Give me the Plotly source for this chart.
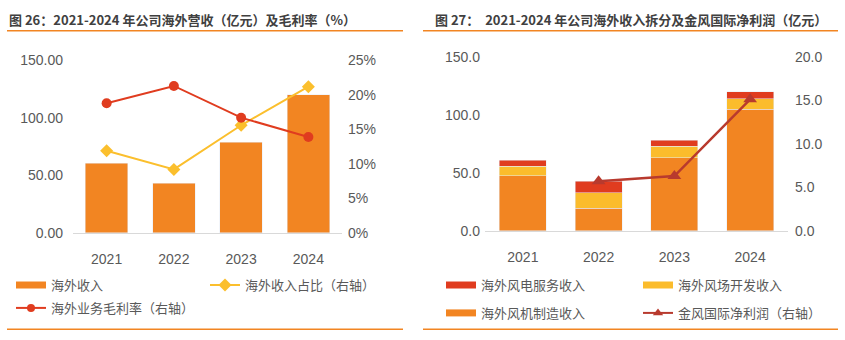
import plotly.graph_objects as go

years = ["2021", "2022", "2023", "2024"]
# Chart 26
overseas_rev = [60.5, 43.1, 79.0, 120.1]          # 亿元
overseas_share = [11.9, 9.2, 15.6, 21.2]          # %
overseas_margin = [18.8, 21.3, 16.7, 13.9]        # %
# Chart 27
rev_service = [5.0, 9.8, 4.9, 5.8]
rev_farm = [8.2, 13.1, 9.9, 9.0]
rev_turbine = [47.5, 19.7, 63.1, 104.9]
intl_profit = [None, 5.7, 6.3, 15.1]

left_ticks = [0, 50, 100, 150]
left_tick_text = ["0.00", "50.00", "100.00", "150.00"]
right_ticks1 = [0, 5, 10, 15, 20, 25]
right_tick_text1 = ["0%", "5%", "10%", "15%", "20%", "25%"]
right_ticks2 = [0, 5, 10, 15, 20]

W, H = 845, 340
def px(x):
    return x / W
def py(y):
    return 1 - y / H

C_OR = "#F28522"
C_RED = "#E03C1F"
C_YEL = "#FBBC2C"
C_LINE_Y = "#FBBF2D"
C_DRED = "#B83A2E"
GRAY = "#595959"
FONT = "'Liberation Sans', Arial, 'Noto Sans CJK SC'"

fig = go.Figure()

# ---- chart 26
fig.add_trace(go.Bar(x=years, y=overseas_rev, marker_color=C_OR, width=0.63,
                     xaxis="x", yaxis="y", showlegend=False))
fig.add_trace(go.Scatter(x=years, y=overseas_share, mode="lines+markers",
                         line=dict(color=C_LINE_Y, width=2),
                         marker=dict(symbol="diamond", size=10, color=C_LINE_Y),
                         xaxis="x", yaxis="y2", name="海外收入占比（右轴）", legend="legend2"))
fig.add_trace(go.Scatter(x=years, y=overseas_margin, mode="lines+markers",
                         line=dict(color=C_RED, width=2),
                         marker=dict(symbol="circle", size=10, color=C_RED),
                         xaxis="x", yaxis="y2", showlegend=False))
# legend proxies for chart 26
fig.add_trace(go.Scatter(x=[None], y=[None], mode="lines", line=dict(color=C_OR, width=7),
                         xaxis="x", yaxis="y", name="海外收入", legend="legend", legendgroup="a1"))
fig.add_trace(go.Scatter(x=[None], y=[None], mode="lines+markers", line=dict(color=C_RED, width=2),
                         marker=dict(symbol="circle", size=8, color=C_RED),
                         xaxis="x", yaxis="y", name="海外业务毛利率（右轴）", legend="legend", legendgroup="a2"))

# ---- chart 27
fig.add_trace(go.Bar(x=years, y=rev_turbine, marker_color=C_OR, width=0.62,
                     xaxis="x2", yaxis="y3", showlegend=False))
fig.add_trace(go.Bar(x=years, y=rev_farm, marker_color=C_YEL, width=0.62,
                     xaxis="x2", yaxis="y3", showlegend=False))
fig.add_trace(go.Bar(x=years, y=rev_service, marker_color=C_RED, width=0.62,
                     xaxis="x2", yaxis="y3", showlegend=False))
fig.add_trace(go.Scatter(x=years, y=intl_profit, mode="lines+markers",
                         line=dict(color=C_DRED, width=2.5),
                         marker=dict(symbol="triangle-up", size=12, color=C_DRED),
                         xaxis="x2", yaxis="y4", showlegend=False))
fig.add_trace(go.Scatter(x=[None], y=[None], mode="lines", line=dict(color=C_RED, width=7),
                         xaxis="x2", yaxis="y3", name="海外风电服务收入", legend="legend3", legendgroup="b1"))
fig.add_trace(go.Scatter(x=[None], y=[None], mode="lines", line=dict(color=C_OR, width=7),
                         xaxis="x2", yaxis="y3", name="海外风机制造收入", legend="legend3", legendgroup="b2"))
fig.add_trace(go.Scatter(x=[None], y=[None], mode="lines", line=dict(color=C_YEL, width=7),
                         xaxis="x2", yaxis="y3", name="海外风场开发收入", legend="legend4", legendgroup="b3"))
fig.add_trace(go.Scatter(x=[None], y=[None], mode="lines+markers", line=dict(color=C_DRED, width=2),
                         marker=dict(symbol="triangle-up", size=9, color=C_DRED),
                         xaxis="x2", yaxis="y4", name="金风国际净利润（右轴）", legend="legend4", legendgroup="b4"))

tickfont = dict(family=FONT, size=14, color=GRAY)
xcommon = dict(type="category", range=[-0.5, 3.5], showgrid=False, showline=True,
               linecolor="#D9D9D9", linewidth=1, ticks="", tickfont=tickfont, zeroline=False,
               ticklabelstandoff=13)
ycommon = dict(showgrid=False, zeroline=False, showline=False, ticks="", tickfont=tickfont)

legfont = dict(family=FONT, size=13, color=GRAY)
def leg(x, y, gap):
    return dict(x=px(x), y=py(y), font=legfont, bgcolor="rgba(0,0,0,0)",
                orientation="v", xanchor="left", yanchor="top", tracegroupgap=gap,
                itemwidth=30, traceorder="grouped")

fig.update_layout(
    width=W, height=H, margin=dict(l=0, r=0, t=0, b=0),
    paper_bgcolor="white", plot_bgcolor="white", barmode="stack",
    xaxis=dict(domain=[px(73), px(342)], anchor="y", **xcommon),
    yaxis=dict(domain=[py(236), py(55)], range=[0, 150], tickvals=left_ticks,
               ticktext=left_tick_text, ticklabelstandoff=9, **ycommon),
    yaxis2=dict(overlaying="y", side="right", range=[0, 25], tickvals=right_ticks1,
                ticktext=right_tick_text1, anchor="x", ticklabelstandoff=5, **ycommon),
    xaxis2=dict(domain=[px(485), px(788)], anchor="y3", **xcommon),
    yaxis3=dict(domain=[py(234), py(51)], range=[0, 150], tickvals=left_ticks,
                tickformat=".1f", anchor="x2", ticklabelstandoff=4, **ycommon),
    yaxis4=dict(overlaying="y3", side="right", range=[0, 20], tickvals=right_ticks2,
                tickformat=".1f", anchor="x2", ticklabelstandoff=6, **ycommon),
    legend=leg(11, 275, 3),
    legend2=leg(205, 275, 3),
    legend3=leg(441, 275, 8),
    legend4=leg(638, 275, 8),
)

# titles
fig.add_annotation(x=px(7), y=py(12), xref="paper", yref="paper", xanchor="left", yanchor="middle",
                   text="<b>图 26：2021-2024 年公司海外营收（亿元）及毛利率（%）</b>", showarrow=False,
                   font=dict(family="Noto Sans CJK SC", size=13, color="#404040"))
fig.add_annotation(x=px(433), y=py(12), xref="paper", yref="paper", xanchor="left", yanchor="middle",
                   text="<b>图 27：  2021-2024 年公司海外收入拆分及金风国际净利润（亿元）</b>", showarrow=False,
                   font=dict(family="Noto Sans CJK SC", size=13, color="#404040"))

for x0, x1 in [(7, 403), (423, 838)]:
    for yl in [24, 337]:
        fig.add_shape(type="line", xref="paper", yref="paper", x0=px(x0), x1=px(x1),
                      y0=py(yl), y1=py(yl), line=dict(color=C_OR, width=1.5))

fig.write_html("out.html")
